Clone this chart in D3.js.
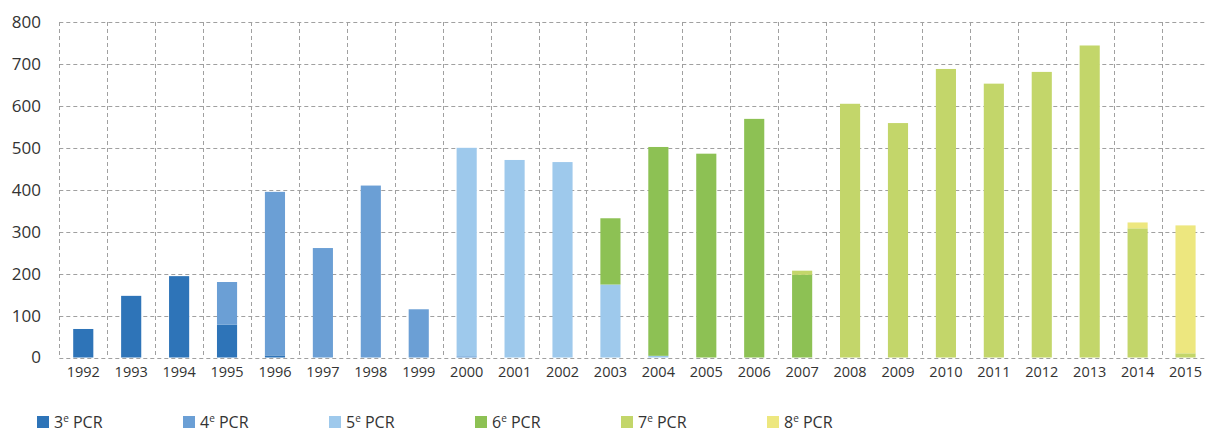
<!DOCTYPE html>
<html>
<head>
<meta charset="utf-8">
<script src="https://cdn.jsdelivr.net/npm/d3@7"></script>
<style>
  body { margin: 0; background: #fff; }
  svg text { font-family: "Open Sans", "Noto Sans", sans-serif; fill: #333; }
</style>
</head>
<body>
<div id="viz"></div>
<script>
// data
var years = ["1992","1993","1994","1995","1996","1997","1998","1999","2000","2001","2002","2003",
             "2004","2005","2006","2007","2008","2009","2010","2011","2012","2013","2014","2015"];
var pcr3 = [68,147,194,78,5,0,0,0,0,0,0,0,0,0,0,0,0,0,0,0,0,0,0,0];
var pcr4 = [0,0,0,102,390,261,410,115,3,0,0,0,0,0,0,0,0,0,0,0,0,0,0,0];
var pcr5 = [0,0,0,0,0,0,0,0,497,471,466,174,4,0,0,0,0,0,0,0,0,0,0,0];
var pcr6 = [0,0,0,0,0,0,0,0,0,0,0,158,498,486,569,197,0,0,0,0,0,0,0,0];
var pcr7 = [0,0,0,0,0,0,0,0,0,0,0,0,0,0,0,10,605,559,688,653,681,744,308,10];
var pcr8 = [0,0,0,0,0,0,0,0,0,0,0,0,0,0,0,0,0,0,0,0,0,0,14,305];
var seriesNames = ["3e PCR","4e PCR","5e PCR","6e PCR","7e PCR","8e PCR"];
var seriesNums = ["3","4","5","6","7","8"];
var colors = ["#2e74b8","#6b9fd5","#9ec9ec","#8dc154","#c3d66a","#ede77f"];
var yTicks = [0,100,200,300,400,500,600,700,800];

var W = 1206, H = 432;
var plotLeft = 59.3, plotRight = 1209.5, plotTop = 22, plotBottom = 357.5;

var svg = d3.select("#viz").append("svg")
    .attr("width", W).attr("height", H);

// table for the stack
var all = [pcr3, pcr4, pcr5, pcr6, pcr7, pcr8];
var rows = years.map(function(yr, i) {
  var r = {year: yr};
  seriesNames.forEach(function(k, j) { r[k] = all[j][i]; });
  return r;
});

var x = d3.scaleBand().domain(years).range([plotLeft, plotRight]).paddingInner(0).paddingOuter(0);
var y = d3.scaleLinear().domain([0, 800]).range([plotBottom, plotTop]);
var color = d3.scaleOrdinal().domain(seriesNames).range(colors);

// grid
var grid = svg.append("g").attr("stroke", "#a0a0a0").attr("stroke-width", 1)
  .attr("stroke-dasharray", "4,3").attr("fill", "none");
grid.selectAll("line.h").data(yTicks).enter().append("line")
  .attr("class", "h")
  .attr("x1", plotLeft).attr("x2", W)
  .attr("y1", function(d) { return Math.round(y(d)) + 0.5; })
  .attr("y2", function(d) { return Math.round(y(d)) + 0.5; });
grid.selectAll("line.v").data(years).enter().append("line")
  .attr("class", "v")
  .attr("x1", function(d) { return Math.round(x(d)) + 0.5; })
  .attr("x2", function(d) { return Math.round(x(d)) + 0.5; })
  .attr("y1", plotTop).attr("y2", plotBottom);

// bars
var stacked = d3.stack().keys(seriesNames)(rows);
var bw = x.bandwidth() * 0.42;
svg.append("g").selectAll("g").data(stacked).enter().append("g")
  .attr("fill", function(d) { return color(d.key); })
  .selectAll("rect").data(function(d) { return d; }).enter().append("rect")
    .attr("x", function(d) { return x(d.data.year) + (x.bandwidth() - bw) / 2; })
    .attr("y", function(d) { return y(d[1]); })
    .attr("height", function(d) { return y(d[0]) - y(d[1]); })
    .attr("width", bw);

// y axis labels
var yAxis = svg.append("g").attr("transform", "translate(41,0)")
  .call(d3.axisLeft(y).tickValues(yTicks).tickSize(0).tickPadding(0));
yAxis.select(".domain").remove();
yAxis.selectAll("text").style("font-size", "17px").attr("fill", "#333");

// x axis labels
var xAxis = svg.append("g").attr("transform", "translate(0," + (plotBottom + 5) + ")")
  .call(d3.axisBottom(x).tickSize(0).tickPadding(4));
xAxis.select(".domain").remove();
xAxis.selectAll("text").style("font-size", "14.5px").attr("fill", "#333");

// legend
var leg = svg.append("g").selectAll("g").data(seriesNames).enter().append("g")
  .attr("transform", function(d, i) { return "translate(" + (37 + i * 146) + ",416)"; });
leg.append("rect").attr("width", 12).attr("height", 12)
  .attr("fill", function(d) { return color(d); });
var lt = leg.append("text").attr("x", 17).attr("y", 12).style("font-size", "16px");
lt.append("tspan").text(function(d, i) { return seriesNums[i]; });
lt.append("tspan").attr("dy", -6).style("font-size", "10px").text("e");
lt.append("tspan").attr("dy", 6).text(" PCR");
</script>
</body>
</html>
